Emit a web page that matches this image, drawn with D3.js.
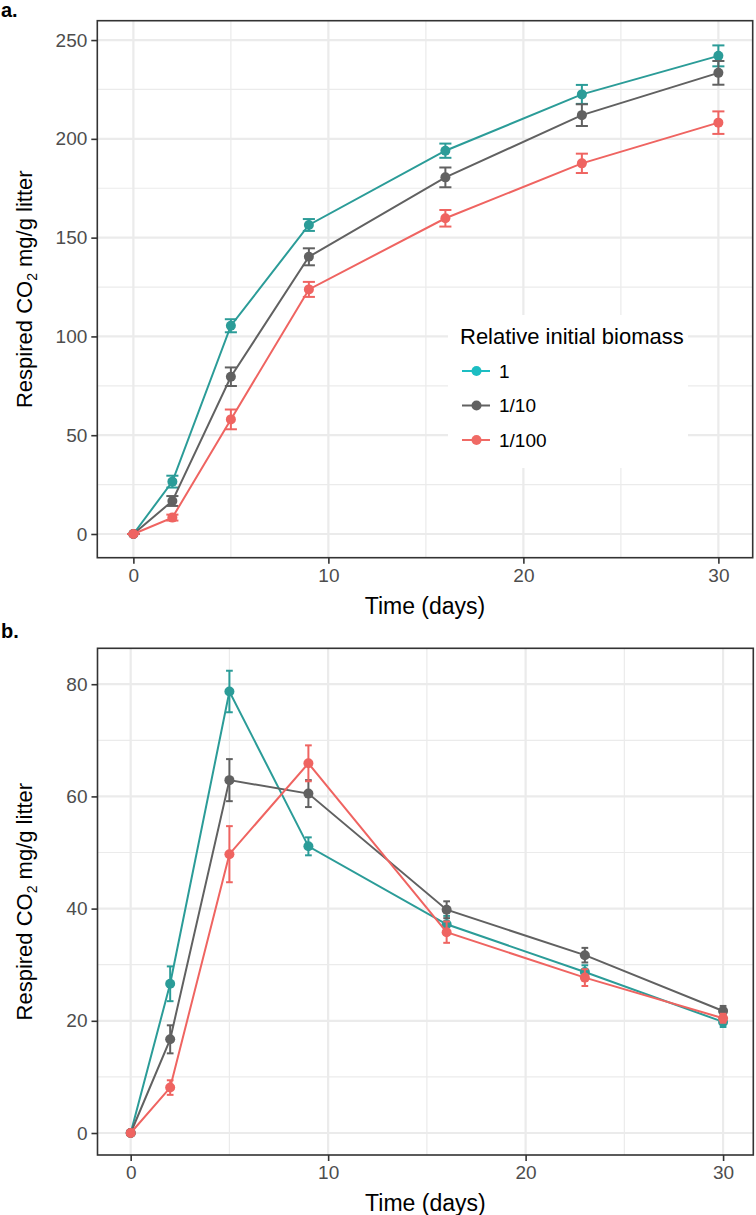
<!DOCTYPE html>
<html>
<head>
<meta charset="utf-8">
<script src="https://cdn.jsdelivr.net/npm/d3@7"></script>
<style>
  html, body { margin: 0; padding: 0; background: #fff; }
  svg { display: block; font-family: "Liberation Sans", Arial, Helvetica, sans-serif; }
</style>
</head>
<body>
<svg id="chart" width="756" height="1215"></svg>
<script>
// ---------- DATA ----------
const days = [0, 2, 5, 9, 16, 23, 30];
const seriesNames = ["1", "1/10", "1/100"];

// Panel a: cumulative respired CO2 (mg/g litter)
const cumBiomass1    = [0, 26.5, 105.4, 156.4, 194.0, 222.5, 242.0];
const cumBiomass1Err = [0, 3.0, 3.3, 3.0, 3.6, 4.8, 5.3];
const cumBiomass10    = [0, 16.7, 79.6, 140.3, 180.5, 212.0, 233.4];
const cumBiomass10Err = [0, 2.5, 4.7, 4.3, 5.0, 5.5, 6.0];
const cumBiomass100    = [0, 8.3, 58.0, 123.8, 159.8, 187.6, 208.2];
const cumBiomass100Err = [0, 1.5, 5.0, 3.8, 4.2, 4.9, 5.7];

// Panel b: respired CO2 per interval (mg/g litter)
const rateBiomass1    = [0, 26.6, 78.7, 51.1, 37.2, 28.7, 19.8];
const rateBiomass1Err = [0, 3.1, 3.7, 1.6, 1.5, 1.2, 0.9];
const rateBiomass10    = [0, 16.7, 62.9, 60.5, 39.8, 31.7, 21.75];
const rateBiomass10Err = [0, 2.5, 3.75, 2.4, 1.5, 1.3, 0.9];
const rateBiomass100    = [0, 8.1, 49.7, 65.9, 35.8, 27.7, 20.45];
const rateBiomass100Err = [0, 1.3, 5.0, 3.2, 1.9, 1.5, 0.8];

const xTicks = [0, 10, 20, 30];
const xMinor = [5, 15, 25];
const yTicksA = [0, 50, 100, 150, 200, 250];
const yMinorA = [25, 75, 125, 175, 225];
const yTicksB = [0, 20, 40, 60, 80];
const yMinorB = [10, 30, 50, 70];

// ---------- STYLE ----------
const lineColors = ["#2B9C98", "#616161", "#EF6461"];
const keyColors  = ["#1CBDC2", "#616161", "#F06A65"];
const gridColor = "#EBEBEB";
const tickTextColor = "#4D4D4D";

const svg = d3.select("#chart");

function drawPanel(cfg) {
  const g = svg.append("g");
  const x = d3.scaleLinear().domain(cfg.xDomain).range([cfg.left, cfg.right]);
  const y = d3.scaleLinear().domain(cfg.yDomain).range([cfg.bottom, cfg.top]);

  g.append("rect").attr("x", cfg.left).attr("y", cfg.top)
    .attr("width", cfg.right - cfg.left).attr("height", cfg.bottom - cfg.top)
    .attr("fill", "#fff");

  // minor grid
  g.selectAll(".xminor").data(xMinor).join("line")
    .attr("x1", d => x(d)).attr("x2", d => x(d))
    .attr("y1", cfg.top).attr("y2", cfg.bottom)
    .attr("stroke", gridColor).attr("stroke-width", 1.2);
  g.selectAll(".yminor").data(cfg.yMinor).join("line")
    .attr("x1", cfg.left).attr("x2", cfg.right)
    .attr("y1", d => y(d)).attr("y2", d => y(d))
    .attr("stroke", gridColor).attr("stroke-width", 1.2);
  // major grid
  g.selectAll(".xmajor").data(xTicks).join("line")
    .attr("x1", d => x(d)).attr("x2", d => x(d))
    .attr("y1", cfg.top).attr("y2", cfg.bottom)
    .attr("stroke", gridColor).attr("stroke-width", 2.2);
  g.selectAll(".ymajor").data(cfg.yTicks).join("line")
    .attr("x1", cfg.left).attr("x2", cfg.right)
    .attr("y1", d => y(d)).attr("y2", d => y(d))
    .attr("stroke", gridColor).attr("stroke-width", 2.2);

  // series
  cfg.series.forEach((s, i) => {
    const pts = days.map((d, j) => ({ x: d, y: s.values[j], e: s.errs[j] }));
    const sg = g.append("g");
    sg.append("path").datum(pts)
      .attr("d", d3.line().x(d => x(d.x)).y(d => y(d.y)))
      .attr("fill", "none").attr("stroke", lineColors[i]).attr("stroke-width", 2);
    sg.selectAll("circle").data(pts).join("circle")
      .attr("cx", d => x(d.x)).attr("cy", d => y(d.y)).attr("r", 5)
      .attr("fill", lineColors[i]);
    const eb = sg.selectAll(".eb").data(pts).join("g");
    eb.append("line")
      .attr("x1", d => x(d.x)).attr("x2", d => x(d.x))
      .attr("y1", d => y(d.y - d.e)).attr("y2", d => y(d.y + d.e))
      .attr("stroke", lineColors[i]).attr("stroke-width", 2);
    [-1, 1].forEach(sgn => {
      eb.append("line")
        .attr("x1", d => x(d.x - cfg.capHalf)).attr("x2", d => x(d.x + cfg.capHalf))
        .attr("y1", d => y(d.y + sgn * d.e)).attr("y2", d => y(d.y + sgn * d.e))
        .attr("stroke", lineColors[i]).attr("stroke-width", 2);
    });
  });

  // panel border
  g.append("rect").attr("x", cfg.left).attr("y", cfg.top)
    .attr("width", cfg.right - cfg.left).attr("height", cfg.bottom - cfg.top)
    .attr("fill", "none").attr("stroke", "#333333").attr("stroke-width", 1.6);

  // axes
  const xAxis = g.append("g").attr("transform", `translate(0,${cfg.bottom})`)
    .call(d3.axisBottom(x).tickValues(xTicks).tickSize(6).tickPadding(5).tickFormat(d3.format("d")));
  const yAxis = g.append("g").attr("transform", `translate(${cfg.left},0)`)
    .call(d3.axisLeft(y).tickValues(cfg.yTicks).tickSize(6).tickPadding(4).tickFormat(d3.format("d")));
  [xAxis, yAxis].forEach(ax => {
    ax.select(".domain").remove();
    ax.selectAll(".tick line").attr("stroke", "#333333").attr("stroke-width", 1.6);
    ax.selectAll(".tick text").attr("fill", tickTextColor).attr("font-size", 19)
      .attr("font-family", "Liberation Sans, Arial, sans-serif");
  });

  // x title
  g.append("text").attr("x", (cfg.left + cfg.right) / 2).attr("y", cfg.bottom + 56)
    .attr("text-anchor", "middle").attr("font-size", 23).attr("fill", "#000")
    .text("Time (days)");
  // y title
  const yt = g.append("text")
    .attr("transform", `translate(32,${(cfg.top + cfg.bottom) / 2}) rotate(-90)`)
    .attr("text-anchor", "middle").attr("font-size", 22).attr("fill", "#000");
  yt.append("tspan").text("Respired CO");
  yt.append("tspan").attr("font-size", 14).attr("dy", 5).text("2");
  yt.append("tspan").attr("dy", -5).text(" mg/g litter");

  // panel tag
  g.append("text").attr("x", 1).attr("y", cfg.tagY)
    .attr("font-size", 20).attr("font-weight", "bold").attr("fill", "#000")
    .text(cfg.tag);

  return { g, x, y };
}

drawPanel({
  tag: "a.", tagY: 17,
  left: 97.3, right: 752.7, top: 20.7, bottom: 557.7,
  xDomain: [-1.85, 31.76], yDomain: [-12.0, 259.8],
  yTicks: yTicksA, yMinor: yMinorA, capHalf: 0.31,
  series: [
    { values: cumBiomass1, errs: cumBiomass1Err },
    { values: cumBiomass10, errs: cumBiomass10Err },
    { values: cumBiomass100, errs: cumBiomass100Err }
  ]
});

drawPanel({
  tag: "b.", tagY: 638,
  left: 97.5, right: 753.3, top: 648.3, bottom: 1155,
  xDomain: [-1.68, 31.53], yDomain: [-3.92, 86.4],
  yTicks: yTicksB, yMinor: yMinorB, capHalf: 0.17,
  series: [
    { values: rateBiomass1, errs: rateBiomass1Err },
    { values: rateBiomass10, errs: rateBiomass10Err },
    { values: rateBiomass100, errs: rateBiomass100Err }
  ]
});

// ---------- LEGEND (inside panel a) ----------
const leg = svg.append("g");
leg.append("rect").attr("x", 448).attr("y", 315).attr("width", 240).attr("height", 153)
  .attr("fill", "#fff");
leg.append("text").attr("x", 460).attr("y", 344).attr("font-size", 22).attr("fill", "#000")
  .text("Relative initial biomass");
const keyY = d3.scalePoint().domain(seriesNames).range([371, 440]);
const items = leg.selectAll(".item").data(seriesNames).join("g")
  .attr("transform", d => `translate(0,${keyY(d)})`);
items.append("line").attr("x1", 462).attr("x2", 490).attr("y1", 0).attr("y2", 0)
  .attr("stroke", (d, i) => keyColors[i]).attr("stroke-width", 2);
items.append("circle").attr("cx", 476.5).attr("cy", 0).attr("r", 5)
  .attr("fill", (d, i) => keyColors[i]);
items.append("text").attr("x", 499).attr("y", 6.5).attr("font-size", 19).attr("fill", "#000")
  .text(d => d);
</script>
</body>
</html>
